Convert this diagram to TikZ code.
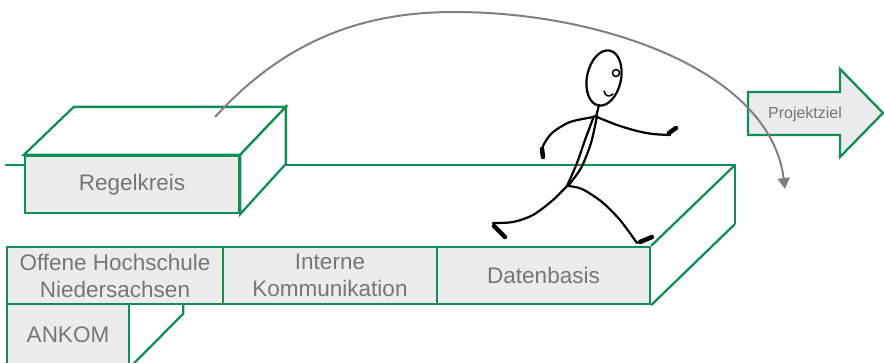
\documentclass[tikz,border=0pt]{standalone}
\usepackage{fontspec}
\setmainfont{Liberation Sans}
\usetikzlibrary{arrows.meta}
\definecolor{boxgreen}{RGB}{18,142,88}
\definecolor{boxfill}{RGB}{236,236,236}
\definecolor{labelgray}{RGB}{118,118,118}
\definecolor{arcgray}{RGB}{128,128,128}
\tikzset{
  edge/.style={draw=boxgreen, line width=2.3pt, line join=miter},
  facebox/.style={edge, fill=boxfill, rectangle, inner sep=0pt, text=labelgray,
    font=\fontsize{22.5}{27}\selectfont, align=center},
  figline/.style={draw=black, line width=2.2pt, line cap=round, line join=round},
  figend/.style={draw=black, line width=4.5pt, line cap=round},
  arcline/.style={draw=arcgray, line width=2pt, -{Triangle[length=11pt,width=12pt]}},
}
\begin{document}
\begin{tikzpicture}[x=1pt,y=-1pt]
\path[use as bounding box, fill=white] (0,0) rectangle (884,362);
\clip (0,0) rectangle (884,362);

% back edge and right side of the platform
\coordinate (pbl) at (5,165);
\coordinate (pbr) at (735,165);
\coordinate (pbrb) at (735,224);
\draw[edge] (pbl) -- (pbr) -- (pbrb);

% front row of the platform
\node[facebox, minimum width=216pt, minimum height=57pt] (ohn) at (115,275.5)
  {Offene Hochschule\\Niedersachsen};
\node[facebox, minimum width=214pt, minimum height=57pt] (ik) at (330,275.5)
  {Interne\\Kommunikation};
\node[facebox, minimum width=213pt, minimum height=57pt] (dat) at (543.5,275.5)
  {Datenbasis};
\draw[edge] (dat.north east) -- (pbr);
\draw[edge] (dat.south east) -- (pbrb);

% ANKOM block below
\node[facebox, minimum width=122pt, minimum height=62pt] (ank) at (68,335) {ANKOM};
\draw[edge] ([xshift=53pt]ank.north east) -- ++(0,11) -- (ank.south east);

% Regelkreis block
\node[facebox, minimum width=214pt, minimum height=57pt] (reg) at (132,184.5) {Regelkreis};
\draw[edge, fill=white] (reg.north west) -- ++(50,-48) coordinate (rbl)
  -- ++(212,0) coordinate (rbr) -- (reg.north east) -- cycle;
\draw[edge, fill=white] (reg.north east) -- (rbr) -- ++(0,57) coordinate (rbrb)
  -- (reg.south east) -- cycle;

% target arrow
\coordinate (g1) at (748,92);
\coordinate (g2) at (840,92);
\coordinate (g3) at (840,69);
\coordinate (g4) at (883,113);
\coordinate (g5) at (840,157);
\coordinate (g6) at (840,135);
\coordinate (g7) at (748,135);
\draw[edge, fill=boxfill] (g1) -- (g2) -- (g3) -- (g4) -- (g5) -- (g6) -- (g7) -- cycle;
\node[text=labelgray, font=\fontsize{16}{19}\selectfont, inner sep=0pt] (goal) at (805,114) {Projektziel};

% jump arc
\coordinate (arcstart) at (215,117);
\coordinate (arctop) at (455,12);
\coordinate (arcend) at (785,189);
\draw[arcline] (arcstart) .. controls (290,35) and (370,12) .. (arctop)
  .. controls (600,12) and (770,70) .. (arcend);

% walking stick figure
\draw[figline, rotate around={-12:(604,78)}] (604,78) ellipse [x radius=17, y radius=28];
\draw[black, line width=1.5pt] (616,73) circle [radius=3.5pt];
\draw[black, line width=1.5pt, line cap=round] (604,91) .. controls (605,97) and (610,97) .. (613,94);
\draw[figline] (599,105) -- (596,117);
% torso
\draw[figline] plot[smooth] coordinates {(594,116) (585,140) (577,163) (567,186)};
\draw[figline] plot[smooth] coordinates {(597,116) (591,143) (581,168) (568,186)};
% arms
\draw[figline] plot[smooth] coordinates {(594,117) (570,122) (552,133) (543,146) (542,155)};
\draw[figend] (542,149) -- (543,157);
\draw[figline] plot[smooth] coordinates {(597,117) (617,125) (637,131) (653,134) (670,135)};
\draw[figend] (669,133) -- (676,128);
% legs
\draw[figline] plot[smooth] coordinates {(567,186) (553,200) (533,215) (513,222) (493,223)};
\draw[figend] (494,226) -- (505,237);
\draw[figline] plot[smooth] coordinates {(568,186) (582,189) (602,202) (620,220) (637,243)};
\draw[figend] (640,242) -- (652,237);
\end{tikzpicture}
\end{document}
